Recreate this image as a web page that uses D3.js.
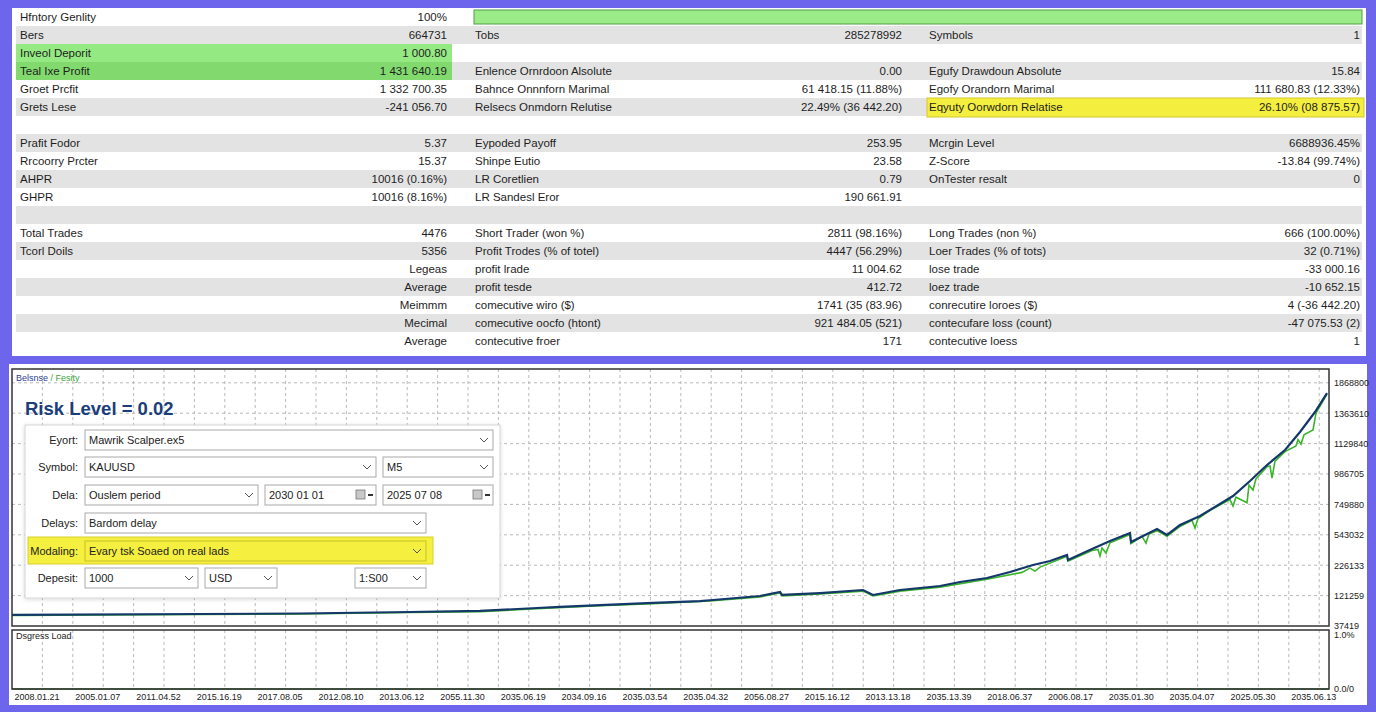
<!DOCTYPE html>
<html><head><meta charset="utf-8">
<script src="https://cdn.jsdelivr.net/npm/d3@7"></script>
<style>
html,body{margin:0;padding:0;background:#6d66ec;}
svg{display:block;font-family:"Liberation Sans",Arial,sans-serif;}
</style></head>
<body>
<svg id="c" width="1376" height="712"></svg>
<script>
// ---------- DATA ----------
const col1Labels = ["Hfntory Genlity","Bers","Inveol Deporit","Teal Ixe Profit","Groet Prcfit","Grets Lese","","Prafit Fodor","Rrcoorry Prcter","AHPR","GHPR","","Total Trades","Tcorl Doils","","","","",""];
const col1Values = ["100%","664731","1 000.80","1 431 640.19","1 332 700.35","-241 056.70","","5.37","15.37","10016 (0.16%)","10016 (8.16%)","","4476","5356","Legeas","Average","Meimmm","Mecimal","Average"];
const col2Labels = ["","Tobs","","Enlence Ornrdoon Alsolute","Bahnce Onnnforn Marimal","Relsecs Onmdorn Relutise","","Eypoded Payoff","Shinpe Eutio","LR Coretlien","LR Sandesl Eror","","Short Trader (won %)","Profit Trodes (% of totel)","profit lrade","profit tesde","comecutive wiro ($)","comecutive oocfo (htont)","contecutive froer"];
const col2Values = ["","285278992","","0.00","61 418.15 (11.88%)","22.49% (36 442.20)","","253.95","23.58","0.79","190 661.91","","2811 (98.16%)","4447 (56.29%)","11 004.62","412.72","1741 (35 (83.96)","921 484.05 (521)","171"];
const col3Labels = ["","Symbols","","Egufy Drawdoun Absolute","Egofy Orandorn Marimal","Eqyuty Oorwdorn Relatise","","Mcrgin Level","Z-Score","OnTester resalt","","","Long Trades (non %)","Loer Trades (% of tots)","lose trade","loez trade","conrecutire loroes ($)","contecufare loss (count)","contecutive loess"];
const col3Values = ["","1","","15.84","111 680.83 (12.33%)","26.10% (08 875.57)","","6688936.45%","-13.84 (99.74%)","0","","","666 (100.00%)","32 (0.71%)","-33 000.16","-10 652.15","4 (-36 442.20)","-47 075.53 (2)","1"];

// balance series: [time index, balance]
const balanceT = [0,188,288,398,468,525,548,588,641,688,701,748,768,770,808,851,861,888,928,948,975,998,1021,1038,1055,1056,1080,1098,1118,1119,1145,1155,1168,1188,1221,1238,1255,1273,1288,1303,1315];
const balanceV = [69000,75000,78000,87500,94000,112500,119000,131000,144000,156000,162500,187500,212500,194000,206000,225000,194000,225000,250000,275000,300000,337500,381000,406000,444000,412500,481000,531000,581000,525000,606000,569000,631000,687500,812500,906000,1006000,1100000,1212500,1337500,1456000];
// equity series
const equityT = [0,188,288,398,468,525,588,641,701,748,768,770,808,851,861,888,928,975,1010,1018,1023,1028,1055,1056,1080,1086,1088,1090,1094,1098,1118,1119,1130,1134,1137,1145,1155,1168,1180,1183,1186,1200,1218,1221,1224,1235,1237,1241,1244,1255,1258,1260,1263,1273,1284,1286,1289,1292,1301,1304,1315];
const equityV = [66000,72000,75000,84000,90000,108000,127000,140000,158000,182000,206000,188000,200000,218000,188000,218000,243000,292000,335000,362000,343000,368000,436000,405000,472000,478000,437000,488000,456000,520000,572000,515000,560000,518000,575000,596000,560000,622000,660000,612000,672000,730000,790000,750000,805000,770000,880000,850000,920000,995000,1000000,925000,1030000,1090000,1125000,1165000,1137000,1195000,1225000,1330000,1450000];

const yTickValues = [0,190000,380000,570000,760000,950000,1140000,1330000,1520000];
const yTickLabels = ["37419","121259","226133","543032","749880","986705","1129840","1363610","1868800"];
const xTickLabels = ["2008.01.21","2005.01.07","2011.04.52","2015.16.19","2017.08.05","2012.08.10","2013.06.12","2055.11.30","2035.06.19","2034.09.16","2035.03.54","2035.04.32","2056.08.27","2015.16.12","2013.13.18","2035.13.39","2018.06.37","2006.08.17","2035.01.30","2035.04.07","2025.05.30","2035.06.13"];
const drawdownT = [0,1317];
const drawdownV = [0,0];

const formLabels = ["Eyort:","Symbol:","Dela:","Delays:","Modaling:","Depesit:"];
const formValues = ["Mawrik Scalper.ex5","KAUUSD","M5","Ouslem period","2030 01 01","2025 07 08","Bardom delay","Evary tsk Soaed on real lads","1000","USD","1:S00"];

// ---------- DRAW ----------
const svg = d3.select("#c");
svg.append("rect").attr("width",1376).attr("height",712).attr("fill","#6d66ec");
svg.append("rect").attr("x",12).attr("y",8).attr("width",1354).attr("height",348).attr("fill","#fff");
svg.append("rect").attr("x",9).attr("y",364).attr("width",1358).attr("height",341).attr("fill","#fff");

// table
const rowY = d3.scaleLinear().domain([0,1]).range([8,26]);
const rows = d3.range(col1Labels.length);
svg.selectAll("rect.row").data(rows.filter(i=>i%2===1)).join("rect")
  .attr("x",16).attr("width",1346).attr("y",i=>rowY(i)).attr("height",18).attr("fill","#e3e3e3");
// progress bar
svg.append("rect").attr("x",474).attr("y",10).attr("width",888).attr("height",14).attr("fill","#9bec88").attr("stroke","#4f9d45").attr("stroke-width",1);
// highlights
svg.append("rect").attr("x",16).attr("y",rowY(2)).attr("width",436).attr("height",18).attr("fill","#95e983");
svg.append("rect").attr("x",16).attr("y",rowY(3)).attr("width",436).attr("height",18).attr("fill","#82da6f");
svg.append("rect").attr("x",927).attr("y",rowY(5)).attr("width",437).attr("height",19).attr("fill","#f4ee3e").attr("stroke","#d3c92c");

const cols = [
  {labels:col1Labels, values:col1Values, lx:20, vx:447},
  {labels:col2Labels, values:col2Values, lx:475, vx:902},
  {labels:col3Labels, values:col3Values, lx:929, vx:1360}
];
cols.forEach(c=>{
  svg.append("g").selectAll("text").data(c.labels).join("text")
    .attr("x",c.lx).attr("y",(d,i)=>rowY(i)+13).attr("font-size",11.5).attr("fill","#1e1e1e").text(d=>d);
  svg.append("g").selectAll("text").data(c.values).join("text")
    .attr("x",c.vx).attr("y",(d,i)=>rowY(i)+13).attr("text-anchor","end").attr("font-size",11.5).attr("fill","#1e1e1e").text(d=>d);
});

// chart
const X0=12, X1=1329, Y0=369, Y1=626, D0=630, D1=689;
const x = d3.scaleLinear().domain([0,1317]).range([X0,X1]);
const y = d3.scaleLinear().domain([0,1606250]).range([Y1,Y0]);
const yd = d3.scaleLinear().domain([0,1]).range([D1,D0+5]);

const gridT = d3.range(30.4,1317,30.4);
const grid = svg.append("g").attr("stroke","#b9b9b9").attr("stroke-dasharray","3,3").attr("stroke-width",1);
grid.selectAll("line.v").data(gridT).join("line")
  .attr("x1",d=>x(d)).attr("x2",d=>x(d)).attr("y1",Y0).attr("y2",Y1);
grid.selectAll("line.vd").data(gridT).join("line").attr("class","vd")
  .attr("x1",d=>x(d)).attr("x2",d=>x(d)).attr("y1",D0).attr("y2",D1);
grid.selectAll("line.h").data(yTickValues.slice(1)).join("line").attr("class","h")
  .attr("x1",X0).attr("x2",X1).attr("y1",d=>y(d)).attr("y2",d=>y(d));

// right axis
const yAxis = d3.axisRight(y).tickValues(yTickValues).tickSize(0).tickFormat((d,i)=>yTickLabels[i]);
const ya = svg.append("g").attr("transform",`translate(${X1+2},0)`).call(yAxis);
ya.select(".domain").remove();
ya.selectAll("text").attr("font-size",9).attr("fill","#222").attr("font-family","Liberation Sans, Arial");

const ydAxis = d3.axisRight(yd).tickValues([0,1]).tickSize(0).tickFormat(d=>d===1?"1.0%":"0.0/0");
const yda = svg.append("g").attr("transform",`translate(${X1+2},0)`).call(ydAxis);
yda.select(".domain").remove();
yda.selectAll("text").attr("font-size",9).attr("fill","#222").attr("font-family","Liberation Sans, Arial");

// x axis labels
const xLabT = xTickLabels.map((d,i)=>30.4*(1+2*i));
const xAxis = d3.axisBottom(x).tickValues(xLabT).tickSize(0).tickFormat((d,i)=>xTickLabels[i]);
const xa = svg.append("g").attr("transform",`translate(-6,${D1+2})`).call(xAxis);
xa.select(".domain").remove();
xa.selectAll("text").attr("font-size",9).attr("fill","#222").attr("font-family","Liberation Sans, Arial");

// series
const eq = equityT.map((t,i)=>[t,equityV[i]]);
const bal = balanceT.map((t,i)=>[t,balanceV[i]]);
const line = d3.line().x(d=>x(d[0])).y(d=>y(d[1]));
svg.append("path").attr("d",line(eq)).attr("fill","none").attr("stroke","#3bb52a").attr("stroke-width",1.6);
svg.append("path").attr("d",line(bal)).attr("fill","none").attr("stroke","#15386a").attr("stroke-width",2.2);
const dd = drawdownT.map((t,i)=>[t,drawdownV[i]]);
svg.append("path").attr("d",d3.line().x(d=>x(d[0])).y(d=>yd(d[1]))(dd)).attr("fill","none").attr("stroke","#2f7d2a").attr("stroke-width",1.5);

// frames
svg.append("rect").attr("x",X0).attr("y",Y0).attr("width",X1-X0).attr("height",Y1-Y0).attr("fill","none").attr("stroke","#333").attr("stroke-width",1.5);
svg.append("rect").attr("x",X0).attr("y",D0).attr("width",X1-X0).attr("height",D1-D0).attr("fill","none").attr("stroke","#333").attr("stroke-width",1.5);

// legend texts
const lg = svg.append("text").attr("x",16).attr("y",381).attr("font-size",9);
lg.append("tspan").attr("fill","#2d3f94").text("Belsnse");
lg.append("tspan").attr("fill","#3aa63a").text(" / Fesity");
svg.append("text").attr("x",16).attr("y",639).attr("font-size",9).attr("fill","#222").text("Dsgress Load");

svg.append("text").attr("x",25).attr("y",415).attr("font-size",18.5).attr("font-weight","bold").attr("fill","#1b3d7a").text("Risk Level = 0.02");

// dialog
const defs = svg.append("defs");
const f = defs.append("filter").attr("id","sh").attr("x","-5%").attr("y","-5%").attr("width","110%").attr("height","115%");
f.append("feDropShadow").attr("dx",0).attr("dy",1).attr("stdDeviation",2).attr("flood-color","#000").attr("flood-opacity",0.15);
svg.append("rect").attr("x",25).attr("y",425).attr("width",475).attr("height",173).attr("fill","#fff").attr("stroke","#d4d4d4").attr("filter","url(#sh)");

const rowsY = [440,467,495,523,551,578];
// yellow modeling highlight
svg.append("rect").attr("x",28).attr("y",537).attr("width",405).attr("height",27).attr("fill","#f5ef3f").attr("stroke","#d8cf2e");

svg.append("g").selectAll("text").data(formLabels).join("text")
  .attr("x",78).attr("y",(d,i)=>rowsY[i]+4).attr("text-anchor","end").attr("font-size",11).attr("fill","#222").text(d=>d);

const boxes = [
  {r:0,x:85,w:408,t:0,ic:"chev"},
  {r:1,x:85,w:291,t:1,ic:"chev"},
  {r:1,x:383,w:110,t:2,ic:"chev"},
  {r:2,x:85,w:173,t:3,ic:"chev"},
  {r:2,x:265,w:111,t:4,ic:"cal"},
  {r:2,x:383,w:110,t:5,ic:"cal"},
  {r:3,x:85,w:341,t:6,ic:"chev"},
  {r:4,x:85,w:341,t:7,ic:"chev",hl:true},
  {r:5,x:85,w:113,t:8,ic:"chev"},
  {r:5,x:205,w:72,t:9,ic:"chev"},
  {r:5,x:355,w:71,t:10,ic:"chev"}
];
boxes.forEach(b=>{
  const cy = rowsY[b.r];
  svg.append("rect").attr("x",b.x).attr("y",cy-10).attr("width",b.w).attr("height",20)
    .attr("fill",b.hl?"#f5ef3f":"#fff").attr("stroke",b.hl?"#c9bf2a":"#a9a9a9").attr("stroke-width",1);
  svg.append("text").attr("x",b.x+4).attr("y",cy+4).attr("font-size",11).attr("fill","#222").text(formValues[b.t]);
  if(b.ic==="chev"){
    const cx=b.x+b.w-9;
    svg.append("path").attr("d",`M${cx-4},${cy-2}L${cx},${cy+2}L${cx+4},${cy-2}`).attr("fill","none").attr("stroke","#555").attr("stroke-width",1);
  } else {
    const cx=b.x+b.w-20;
    svg.append("rect").attr("x",cx).attr("y",cy-5).attr("width",9).attr("height",9).attr("fill","#c8c8c8").attr("stroke","#777").attr("stroke-width",0.8);
    svg.append("rect").attr("x",cx+12).attr("y",cy-1).attr("width",5).attr("height",2).attr("fill","#333");
  }
});
</script>
</body></html>
